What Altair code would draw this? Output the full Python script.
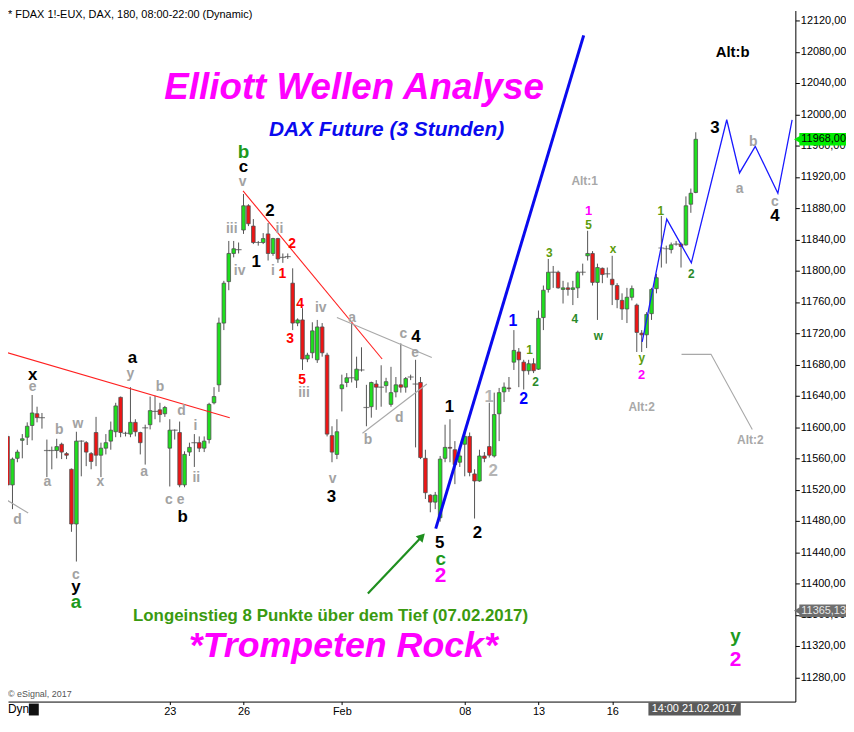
import altair as alt
import pandas as pd
import numpy as np

# ---------------- data (3-hour bars, FDAX) ----------------
OPEN = [11588, 11526, 11560, 11583, 11587, 11602, 11617, 11612, 11570, 11570,
        11570, 11578, 11566, 11546, 11476, 11582, 11580, 11566, 11593, 11564,
        11573, 11582, 11594, 11638, 11592, 11591, 11606, 11593, 11599, 11603,
        11620, 11622, 11617, 11573, 11596, 11593, 11526, 11568, 11580, 11580,
        11573, 11584, 11631, 11654, 11733, 11786, 11822, 11827, 11852, 11883,
        11857, 11836, 11836, 11847, 11822, 11841, 11817, 11818, 11784, 11733,
        11737, 11687, 11695, 11686, 11728, 11692, 11589, 11565, 11649, 11657,
        11663, 11660, 11673, 11625, 11626, 11655, 11651, 11653, 11629, 11645,
        11654, 11651, 11664, 11655, 11657, 11560, 11513, 11504, 11484, 11560,
        11574, 11571, 11555, 11578, 11588, 11540, 11531, 11563, 11575, 11563,
        11617, 11645, 11650, 11683, 11696, 11683, 11672, 11681, 11674, 11740,
        11776, 11798, 11798, 11776, 11778, 11776, 11778, 11798, 11819, 11822,
        11785, 11803, 11796, 11789, 11781, 11762, 11751, 11766, 11756, 11720,
        11718, 11745, 11777, 11829, 11828, 11827, 11834, 11834, 11833, 11885,
        11900]
HIGH = [11592, 11561, 11571, 11591, 11606, 11641, 11626, 11618, 11584, 11575,
        11585, 11580, 11568, 11547, 11594, 11583, 11582, 11568, 11613, 11580,
        11591, 11607, 11631, 11639, 11594, 11651, 11610, 11594, 11603, 11639,
        11640, 11631, 11627, 11610, 11597, 11607, 11569, 11580, 11591, 11588,
        11588, 11631, 11651, 11740, 11787, 11838, 11838, 11836, 11898, 11885,
        11866, 11838, 11848, 11861, 11842, 11842, 11822, 11822, 11803, 11739,
        11752, 11695, 11734, 11737, 11733, 11695, 11601, 11610, 11667, 11669,
        11733, 11690, 11702, 11654, 11658, 11660, 11679, 11663, 11677, 11664,
        11707, 11664, 11667, 11686, 11664, 11571, 11514, 11517, 11563, 11603,
        11610, 11582, 11571, 11594, 11593, 11546, 11571, 11568, 11631, 11644,
        11650, 11657, 11664, 11724, 11701, 11686, 11686, 11688, 11749, 11781,
        11815, 11806, 11800, 11787, 11785, 11787, 11800, 11809, 11851, 11825,
        11809, 11804, 11804, 11819, 11784, 11771, 11778, 11781, 11758, 11724,
        11747, 11778, 11796, 11870, 11832, 11836, 11838, 11836, 11895, 11905,
        11977]
LOW = [11521, 11495, 11555, 11560, 11577, 11583, 11606, 11598, 11536, 11546,
       11560, 11559, 11559, 11466, 11428, 11537, 11550, 11546, 11550, 11536,
       11565, 11571, 11587, 11587, 11588, 11587, 11588, 11565, 11552, 11597,
       11610, 11606, 11613, 11524, 11584, 11523, 11523, 11563, 11549, 11568,
       11568, 11579, 11629, 11645, 11724, 11775, 11817, 11822, 11847, 11857,
       11834, 11832, 11834, 11813, 11819, 11810, 11810, 11815, 11724, 11729,
       11673, 11683, 11688, 11682, 11690, 11588, 11555, 11559, 11620, 11651,
       11657, 11650, 11671, 11601, 11612, 11622, 11626, 11644, 11626, 11638,
       11644, 11644, 11660, 11574, 11559, 11508, 11491, 11495, 11479, 11555,
       11555, 11527, 11549, 11537, 11537, 11483, 11530, 11555, 11561, 11561,
       11582, 11632, 11645, 11673, 11651, 11648, 11667, 11669, 11673, 11724,
       11772, 11778, 11777, 11758, 11768, 11756, 11765, 11794, 11813, 11781,
       11737, 11784, 11791, 11756, 11752, 11737, 11733, 11762, 11696, 11696,
       11701, 11737, 11771, 11804, 11809, 11822, 11832, 11804, 11832, 11874,
       11899]
CLOSE = [11526, 11559, 11568, 11585, 11601, 11618, 11612, 11612, 11570, 11570,
         11575, 11568, 11564, 11476, 11582, 11582, 11568, 11556, 11564, 11573,
         11580, 11596, 11627, 11593, 11592, 11606, 11594, 11580, 11599, 11621,
         11620, 11616, 11625, 11596, 11596, 11526, 11565, 11574, 11580, 11573,
         11582, 11629, 11639, 11733, 11784, 11822, 11828, 11827, 11883, 11860,
         11836, 11836, 11841, 11822, 11841, 11815, 11817, 11818, 11733, 11737,
         11687, 11692, 11723, 11728, 11695, 11591, 11568, 11594, 11654, 11663,
         11663, 11674, 11673, 11625, 11657, 11651, 11651, 11658, 11644, 11654,
         11651, 11662, 11664, 11655, 11561, 11516, 11504, 11513, 11559, 11574,
         11573, 11552, 11563, 11588, 11542, 11531, 11563, 11560, 11564, 11616,
         11644, 11651, 11649, 11698, 11686, 11672, 11681, 11672, 11739, 11775,
         11798, 11798, 11778, 11778, 11776, 11778, 11798, 11798, 11822, 11785,
         11804, 11795, 11796, 11782, 11763, 11751, 11766, 11777, 11721, 11718,
         11744, 11776, 11791, 11829, 11828, 11833, 11834, 11831, 11883, 11899,
         11968]

DAY_TICK_BARS = [33, 48, 68, 93, 108, 123]
DAY_TICK_LABELS = ["23", "26", "Feb", "08", "13", "16"]
PRICE_TICKS = list(range(11280, 12121, 40))

# trend / channel lines (bar index, price)
RED_TRENDS = [("A", -0.5, 11696), ("A", 45.2, 11612),
              ("B", 47.9, 11902), ("B", 76.2, 11687)]
GRAY_LINES = [("t", 67.0, 11740), ("t", 86.3, 11689),
              ("u", 72.2, 11592), ("u", 85.3, 11655),
              ("d", -0.5, 11508), ("d", 4.2, 11490),
              ("alt", 137.1, 11693), ("alt", 143.1, 11693), ("alt", 151.5, 11597)]
BLUE_CHANNEL = [(87.1, 11470), (117.2, 12101)]
BLUE_PATH = [(129.1, 11709), (134.1, 11866), (139.1, 11810), (146.3, 11993),
             (148.9, 11925), (152.1, 11959), (156.7, 11899), (159.6, 11993)]
ARROW = [(73.3, 11387), (84.3, 11460)]

# wave labels (text, bar index, price)
GRAY_LBL = [("e", 5.1, 11651), ("d", 2.0, 11481), ("b", 10.5, 11596), ("a", 8.1, 11530),
            ("w", 14.3, 11604), ("x", 18.9, 11530), ("c", 13.9, 11411), ("y", 25.0, 11668),
            ("b", 31.0, 11651), ("a", 27.8, 11542), ("d", 35.4, 11620), ("c", 32.8, 11507),
            ("e", 35.2, 11507), ("i", 38.2, 11601), ("ii", 38.4, 11535), ("iii", 45.6, 11853),
            ("iv", 47.2, 11800), ("v", 47.8, 11913), ("ii", 55.3, 11853), ("i", 54.0, 11799),
            ("iii", 60.3, 11643), ("iv", 63.7, 11752), ("a", 70.1, 11740), ("v", 66.1, 11533),
            ("b", 73.3, 11584), ("d", 79.7, 11611), ("c", 80.5, 11719), ("e", 82.9, 11695),
            ("a", 148.9, 11905), ("b", 151.7, 11965), ("c", 156.1, 11888)]
GRAY_BIG_LBL = [("1", 98.0, 11639), ("2", 98.8, 11544)]
ALT_LBL = [("Alt:1", 117.4, 11914), ("Alt:2", 129.0, 11626), ("Alt:2", 151.1, 11583)]
BLACK_LBL = [("x", 5.1, 11667), ("y", 13.9, 11396), ("a", 25.4, 11688), ("b", 35.6, 11485),
             ("c", 48.0, 11932), ("2", 53.4, 11876), ("1", 50.6, 11811), ("3", 65.9, 11511),
             ("4", 83.1, 11715), ("1", 89.9, 11625), ("5", 87.9, 11452), ("2", 95.6, 11464),
             ("3", 143.9, 11982), ("4", 156.1, 11870)]
ALT_B_LBL = [("Alt:b", 147.5, 12079)]
RED_LBL = [("2", 57.9, 11834), ("1", 55.9, 11796), ("4", 59.5, 11757),
           ("3", 57.5, 11712), ("5", 59.9, 11660)]
GREEN_BIG_LBL = [("a", 13.9, 11376), ("b", 48.0, 11952), ("c", 88.1, 11431), ("y", 148.1, 11333)]
MAGENTA_BIG_LBL = [("2", 88.1, 11409), ("2", 148.1, 11302)]
MAGENTA_SMALL_LBL = [("1", 118.2, 11876), ("2", 129.0, 11667)]
BLUE_LBL = [("1", 102.8, 11735), ("2", 105.0, 11636)]
OLIVE_LBL = [("1", 106.2, 11698), ("3", 110.2, 11823), ("5", 118.2, 11858),
             ("x", 123.2, 11828), ("y", 129.0, 11688), ("1", 132.9, 11876)]
DKGREEN_LBL = [("2", 107.4, 11657), ("4", 115.4, 11738), ("w", 120.2, 11716), ("2", 139.1, 11796)]

TITLE_MAIN = ("Elliott Wellen Analyse", 70.5, 12034)
TITLE_SUB = ("DAX Future (3 Stunden)", 77.1, 11980)
TITLE_ROCK = ("*Trompeten Rock*", 68.3, 11320)
TITLE_ENTRY = ("Longeinstieg 8 Punkte über dem Tief (07.02.2017)", 65.7, 11358)

LAST_PRICE = [11968.00]
LAST_LABEL = ["11968,00"]
REF_PRICE = [11365.13]
REF_LABEL = ["11365,13"]

HEADER = "* FDAX 1!-EUX, DAX, 180, 08:00-22:00 (Dynamic)"
CURSOR_LABEL = "14:00 21.02.2017"

FONT = "Liberation Sans"
W, H = 793, 696

# ---------------- scales / axes ----------------
xs = alt.Scale(domain=[1.1, 159.25], nice=False, zero=False)
ys = alt.Scale(domain=[11248.9, 12132.7], nice=False, zero=False)
x_expr = " : ".join(f"datum.value == {b} ? '{l}'" for b, l in zip(DAY_TICK_BARS, DAY_TICK_LABELS)) + " : ''"
xaxis = alt.Axis(values=DAY_TICK_BARS, labelExpr=x_expr, title=None, grid=False,
                 tickSize=3, labelPadding=1, labelFontSize=11)
yaxis = alt.Axis(values=PRICE_TICKS, orient="right", title=None, grid=False,
                 labelExpr="replace(format(datum.value, '.2f'), '.', ',')",
                 tickSize=4, labelPadding=1, labelFontSize=11)


def X(f):
    return alt.X(f, type="quantitative", scale=xs, axis=xaxis)


def Y(f):
    return alt.Y(f, type="quantitative", scale=ys, axis=yaxis)


# ---------------- candles ----------------
c = pd.DataFrame({"bar": np.arange(len(OPEN)), "open": OPEN, "high": HIGH,
                  "low": LOW, "close": CLOSE})
c["top"] = c[["open", "close"]].max(axis=1)
c["bot"] = c[["open", "close"]].min(axis=1)
c["dir"] = np.where(c["close"] > c["open"], "up", np.where(c["close"] < c["open"], "down", "flat"))

base = alt.Chart(c)
wicks = base.mark_rule(color="#555555", strokeWidth=1, clip=True).encode(
    x=X("bar"), y=Y("low"), y2=alt.Y2("high"))
bodies = base.transform_filter("datum.dir != 'flat'").mark_bar(
    size=3.6, stroke="#505050", strokeWidth=0.8, clip=True).encode(
    x=X("bar"), y=Y("bot"), y2=alt.Y2("top"),
    color=alt.Color("dir:N", scale=alt.Scale(domain=["up", "down"], range=["#1ee01e", "#ee1515"]),
                    legend=None))
dojis = base.transform_filter("datum.dir == 'flat'").mark_tick(
    orient="horizontal", size=6, thickness=1.2, color="#505050", clip=True).encode(
    x=X("bar"), y=Y("close"))


def seg_df(rows):
    return pd.DataFrame([{"g": g, "bar": b, "p": p, "o": i} for i, (g, b, p) in enumerate(rows)])


def path_df(rows):
    return pd.DataFrame([{"g": "p", "bar": b, "p": p, "o": i} for i, (b, p) in enumerate(rows)])


def line_layer(df, color, width):
    return alt.Chart(df).mark_line(color=color, strokeWidth=width, clip=True).encode(
        x=X("bar"), y=Y("p"), detail="g:N", order="o:Q")


red_lines = line_layer(seg_df(RED_TRENDS), "#ff2020", 1.1)
gray_lines = line_layer(seg_df(GRAY_LINES), "#a8a8a8", 1.1)
blue_channel = line_layer(path_df(BLUE_CHANNEL), "#0a0aee", 3)
blue_path = line_layer(path_df(BLUE_PATH), "#1a1aff", 1.3)
arrow_line = line_layer(path_df(ARROW), "#1f8f1f", 2.2)
arrow_head = alt.Chart(path_df(ARROW[1:])).mark_point(
    shape="triangle-up", angle=44, size=90, filled=True, color="#1f8f1f", opacity=1).encode(
    x=X("bar"), y=Y("p"))


def text_layer(rows, color, size, weight="bold", style="normal"):
    df = pd.DataFrame([{"t": t, "bar": b, "p": p} for t, b, p in rows])
    return alt.Chart(df).mark_text(font=FONT, fontSize=size, fontWeight=weight, fontStyle=style,
                                   color=color, align="center", baseline="middle").encode(
        x=X("bar"), y=Y("p"), text="t:N")


texts = [
    text_layer(GRAY_LBL, "#a2a2a2", 14),
    text_layer(GRAY_BIG_LBL, "#b4b4b4", 17),
    text_layer(ALT_LBL, "#a8a8a8", 12),
    text_layer(BLACK_LBL, "#000000", 17),
    text_layer(ALT_B_LBL, "#000000", 15),
    text_layer(RED_LBL, "#ff0000", 14),
    text_layer(GREEN_BIG_LBL, "#1d9a1d", 19),
    text_layer(MAGENTA_BIG_LBL, "#ff00ff", 21),
    text_layer(MAGENTA_SMALL_LBL, "#ff00ff", 13),
    text_layer(BLUE_LBL, "#0000ff", 16),
    text_layer(OLIVE_LBL, "#5c9c0c", 12),
    text_layer(DKGREEN_LBL, "#2a8a2a", 12),
    text_layer([TITLE_MAIN], "#ff00ff", 37, style="italic"),
    text_layer([TITLE_SUB], "#0a0aee", 21, style="italic"),
    text_layer([TITLE_ROCK], "#ff00ff", 36, style="italic"),
    text_layer([TITLE_ENTRY], "#3a9a10", 17),
]


# ---------------- price tags on the right axis ----------------
def tag_layers(prices, labels, fill, text_color):
    df = pd.DataFrame({"p": prices, "t": labels})
    rect = alt.Chart(df).transform_calculate(p1="datum.p + 8", p2="datum.p - 8").mark_rect(
        color=fill).encode(x=alt.value(797), x2=alt.value(845), y=Y("p1:Q"), y2=alt.Y2("p2"))
    tip = alt.Chart(df).mark_point(shape="triangle-left", size=60, filled=True, color=fill,
                                   opacity=1).encode(x=alt.value(795), y=Y("p"))
    txt = alt.Chart(df).mark_text(font=FONT, fontSize=11, color=text_color, align="left",
                                  baseline="middle").encode(x=alt.value(799), y=Y("p"), text="t:N")
    return [rect, tip, txt]


tags = tag_layers(LAST_PRICE, LAST_LABEL, "#00ee00", "#000000") + \
    tag_layers(REF_PRICE, REF_LABEL, "#6e6e6e", "#e8e8e8")

# ---------------- chrome: header, footer ----------------
one = pd.DataFrame({"t": [HEADER]})
header = alt.Chart(one).mark_text(font=FONT, fontSize=11, color="#000000", align="left",
                                  baseline="middle").encode(
    x=alt.value(0), y=alt.value(5), text="t:N")
copyright_ = alt.Chart(pd.DataFrame({"t": ["© eSignal, 2017"]})).mark_text(
    font=FONT, fontSize=9, color="#555555", align="left", baseline="middle").encode(
    x=alt.value(0), y=alt.value(688), text="t:N")
dyn = alt.Chart(pd.DataFrame({"t": ["Dyn"]})).mark_text(
    font=FONT, fontSize=12, color="#000000", align="left", baseline="middle").encode(
    x=alt.value(0), y=alt.value(704), text="t:N")
dyn_box = alt.Chart(pd.DataFrame({"t": ["Dyn"]})).mark_rect(color="#111111").encode(
    x=alt.value(21), x2=alt.value(31), y=alt.value(698), y2=alt.value(710))
cursor_box = alt.Chart(pd.DataFrame({"t": [CURSOR_LABEL]})).mark_rect(color="#5a5a5a").encode(
    x=alt.value(645), x2=alt.value(738), y=alt.value(697), y2=alt.value(710))
cursor_txt = alt.Chart(pd.DataFrame({"t": [CURSOR_LABEL]})).mark_text(
    font=FONT, fontSize=11, color="#ffffff", align="center", baseline="middle").encode(
    x=alt.value(691), y=alt.value(704), text="t:N")

chart = alt.layer(
    wicks, bodies, dojis, red_lines, gray_lines, blue_channel, blue_path,
    arrow_line, arrow_head, *texts, *tags, header, copyright_, dyn, dyn_box,
    cursor_box, cursor_txt
).properties(
    width=W, height=H,
    autosize=alt.AutoSizeParams(type="none"),
    padding={"left": 0, "top": 0, "right": 51, "bottom": 14},
    background="#ffffff",
).configure_view(stroke=None).configure_axis(
    labelFont=FONT, labelColor="#000000", tickColor="#000000", domainColor="#000000",
    domainWidth=1
)

chart.save("out.html", embed_options={"renderer": "svg", "actions": False})
